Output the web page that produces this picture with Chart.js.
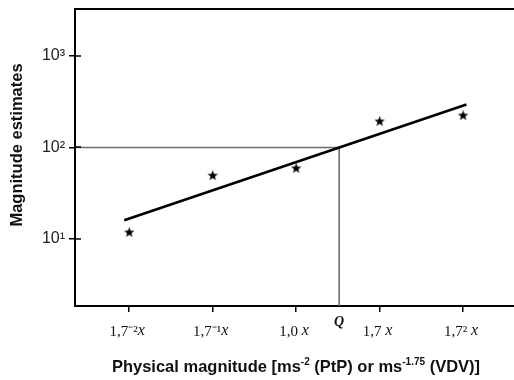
<!DOCTYPE html>
<html>
<head>
<meta charset="utf-8">
<script src="https://cdn.jsdelivr.net/npm/chart.js@4"></script>
<style>
html,body{margin:0;padding:0;background:#fff;overflow:hidden;}
canvas{display:block;}
</style>
</head>
<body>
<canvas id="c" width="514" height="380"></canvas>
<script>
// ---- data ----
const categories = [0, 1, 2, 3, 4];
const xTickLabels = ["1,7⁻²", "1,7⁻¹", "1,0 ", "1,7 ", "1,7² "];
const estimates = [11.9, 49.8, 59.8, 195, 226];
const fitX = [-0.06, 4.04];
const fitY = [16.0, 296];
const qX = 2.515;
const qY = 100;
const yTicks = [10, 100, 1000];
const yTickLabels = ["10¹", "10²", "10³"];
const xMin = -0.65, xMax = 4.61;
const yMin = 1.845, yMax = 3273;

// filled star marker
function makeStar(r) {
  const c = document.createElement('canvas');
  const s = Math.ceil(r * 2 + 2);
  c.width = s; c.height = s;
  const g = c.getContext('2d');
  g.fillStyle = '#000';
  g.beginPath();
  for (let i = 0; i < 10; i++) {
    const rr = i % 2 === 0 ? r : r * 0.42;
    const a = -Math.PI / 2 + i * Math.PI / 5;
    const px = s / 2 + rr * Math.cos(a), py = s / 2 + rr * Math.sin(a) + 0.5;
    if (i === 0) g.moveTo(px, py); else g.lineTo(px, py);
  }
  g.closePath();
  g.fill();
  return c;
}
const star = makeStar(5.5);

const decor = {
  id: 'decor',
  afterDraw(chart) {
    const ctx = chart.ctx;
    const xs = chart.scales.x, ys = chart.scales.y;
    const area = chart.chartArea;
    ctx.save();
    // inner y ticks
    ctx.strokeStyle = '#000';
    ctx.lineWidth = 1.5;
    yTicks.forEach(v => {
      const py = Math.round(ys.getPixelForValue(v));
      ctx.beginPath();
      ctx.moveTo(area.left, py);
      ctx.lineTo(area.left + 6, py);
      ctx.stroke();
    });
    // x tick labels
    ctx.fillStyle = '#111';
    ctx.textBaseline = 'middle';
    const fT = '15px "Liberation Serif"', fX = 'italic 16px "Liberation Serif"';
    categories.forEach((v, i) => {
      const px = xs.getPixelForValue(v);
      const a = xTickLabels[i];
      ctx.font = fT;
      const w1 = ctx.measureText(a).width;
      ctx.font = fX;
      const w2 = ctx.measureText('x').width;
      let sx = px - (w1 + w2) / 2 - 2;
      ctx.font = fT;
      ctx.textAlign = 'left';
      ctx.fillText(a, sx, 332);
      ctx.font = fX;
      ctx.fillText('x', sx + w1, 331);
    });
    // Q label
    ctx.font = 'italic bold 14px "Liberation Serif"';
    ctx.textAlign = 'center';
    ctx.fillText('Q', xs.getPixelForValue(qX), 322);
    // x title
    const segs = [
      ['Physical magnitude [ms', false],
      ['-2', true],
      [' (PtP) or ms', false],
      ['-1.75', true],
      [' (VDV)]', false]
    ];
    const fN = 'bold 16.5px "Liberation Sans"', fS = 'bold 10px "Liberation Sans"';
    let tw = 0;
    segs.forEach(s => { ctx.font = s[1] ? fS : fN; tw += ctx.measureText(s[0]).width; });
    let sx = 296 - tw / 2;
    ctx.textAlign = 'left';
    segs.forEach(s => {
      ctx.font = s[1] ? fS : fN;
      ctx.fillText(s[0], sx, s[1] ? 362 : 367);
      sx += ctx.measureText(s[0]).width;
    });
    // y title
    ctx.translate(17, 145);
    ctx.rotate(-Math.PI / 2);
    ctx.font = 'bold 16.5px "Liberation Sans"';
    ctx.textAlign = 'center';
    ctx.fillText('Magnitude estimates', 0, 0);
    ctx.restore();
  }
};

new Chart(document.getElementById('c'), {
  type: 'scatter',
  data: {
    datasets: [
      {
        label: 'Q reference',
        type: 'line',
        data: [{x: xMin, y: qY}, {x: qX, y: qY}, {x: qX, y: yMin}],
        borderColor: '#6e6e6e',
        borderWidth: 1.6,
        pointRadius: 0,
        fill: false,
        tension: 0,
        order: 3
      },
      {
        label: 'Fit',
        type: 'line',
        data: fitX.map((x, i) => ({x: x, y: fitY[i]})),
        borderColor: '#000',
        borderWidth: 2.6,
        pointRadius: 0,
        fill: false,
        tension: 0,
        order: 2
      },
      {
        label: 'Estimates',
        data: categories.map((c, i) => ({x: c, y: estimates[i]})),
        pointStyle: star,
        pointRadius: 6,
        order: 1
      }
    ]
  },
  options: {
    responsive: false,
    animation: false,
    devicePixelRatio: 1,
    layout: {padding: 0, autoPadding: false},
    plugins: {legend: {display: false}, tooltip: {enabled: false}},
    scales: {
      x: {
        type: 'linear',
        position: 'bottom',
        min: xMin, max: xMax,
        afterBuildTicks: s => { s.ticks = categories.map(v => ({value: v})); },
        afterFit: s => { s.height = 74; s.paddingLeft = 0; s.paddingRight = 0; },
        ticks: {display: false},
        grid: {display: true, drawOnChartArea: false, drawTicks: true, tickLength: 6, color: '#000', lineWidth: 1.5},
        border: {display: true, color: '#000', width: 2}
      },
      x2: {
        type: 'linear',
        position: 'top',
        min: xMin, max: xMax,
        afterFit: s => { s.height = 9; s.paddingLeft = 0; s.paddingRight = 0; },
        ticks: {display: false},
        grid: {display: false, drawTicks: false},
        border: {display: true, color: '#000', width: 2}
      },
      y: {
        type: 'logarithmic',
        min: yMin, max: yMax,
        afterBuildTicks: s => { s.ticks = yTicks.map(v => ({value: v})); },
        afterFit: s => { s.width = 75; s.paddingTop = 0; s.paddingBottom = 0; },
        ticks: {
          callback: (v) => { const i = yTicks.indexOf(v); return i >= 0 ? yTickLabels[i] : ''; },
          font: {family: '"Liberation Sans"', size: 16},
          color: '#222',
          padding: 4
        },
        grid: {display: true, drawOnChartArea: false, drawTicks: true, tickLength: 6, color: '#000', lineWidth: 1.5},
        border: {display: true, color: '#000', width: 2}
      }
    }
  },
  plugins: [decor]
});
</script>
</body>
</html>
